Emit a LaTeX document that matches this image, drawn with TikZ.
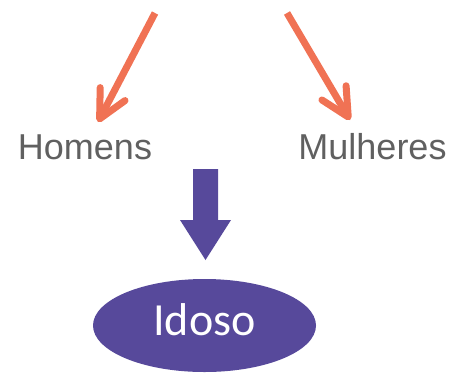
\documentclass[tikz,border=0pt]{standalone}
\usepackage{fontspec}
\setmainfont{Liberation Sans}
\newfontfamily\calibrifont{Carlito}
\usetikzlibrary{positioning,arrows.meta,shapes.geometric}
\definecolor{SexOrange}{RGB}{240,114,84}
\definecolor{AgePurple}{RGB}{87,73,155}
\definecolor{LabelGray}{RGB}{96,96,96}

\begin{document}
\begin{tikzpicture}[x=1pt, y=-1pt, >=Latex]
  \tikzset{
    group/.style={text=LabelGray, font=\fontsize{36}{36}\selectfont, inner sep=0pt, anchor=base},
    target/.style={ellipse, fill=AgePurple, minimum width=223pt, minimum height=93pt, inner sep=0pt,
      text=white, text depth=12pt, font=\calibrifont\fontsize{46}{46}\selectfont},
    split/.style={-{Straight Barb[length=28pt,width=28pt,round]}, line width=7pt, draw=SexOrange},
    blockarrow/.style={fill=AgePurple}
  }
  \useasboundingbox (0,0) rectangle (454,373);

  \node[group] (men) at (85,159) {Homens};
  \node[group] (women) at (372.5,159) {Mulheres};
  \node[target] (elder) at (204.5,325.5) {Idoso};

  % split arrows from the top
  \coordinate (menstart) at (155,13);
  \coordinate (mentip) at (98,122);
  \coordinate (womenstart) at (287,13);
  \coordinate (womentip) at (350,120);
  \draw[split] (menstart) -- (mentip);
  \draw[split] (womenstart) -- (womentip);

  % block arrow down to Idoso
  \coordinate (down) at (205.5,169);
  \fill[blockarrow] (down) ++(-12.5,0) -- ++(25,0) -- ++(0,51) -- ++(13,0)
    -- ++(-25.5,40) -- ++(-25.5,-40) -- ++(13,0) -- cycle;
\end{tikzpicture}
\end{document}
